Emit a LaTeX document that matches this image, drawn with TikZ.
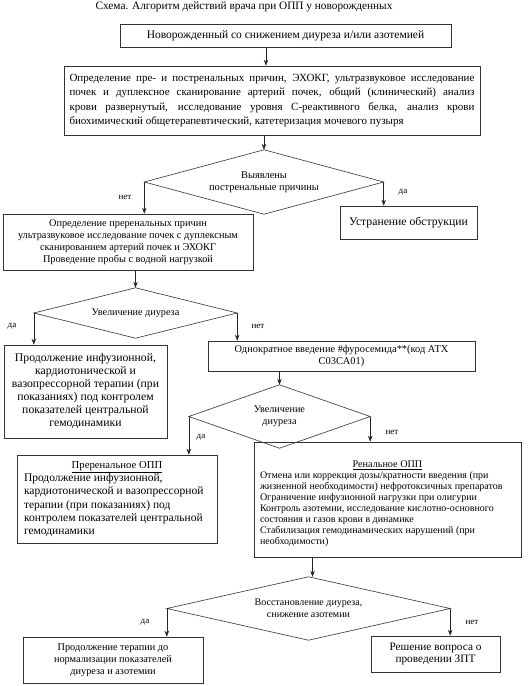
\documentclass[tikz,border=0pt]{standalone}
\usepackage{fontspec}
\setmainfont{Liberation Serif}
\usetikzlibrary{arrows.meta}
\newcommand{\fs}[2]{\fontsize{#1}{#2}\selectfont}
\begin{document}
\begin{tikzpicture}[x=1pt,y=-1pt,
  box/.style={draw=black!80, line width=0.6pt, inner sep=0pt, align=center},
  dtext/.style={inner sep=0pt, align=center},
  dline/.style={draw=black!80, line width=0.6pt},
  arr/.style={draw=black!85, line width=0.6pt, -{Stealth[length=6pt,width=4.5pt]}},
  lab/.style={inner sep=0pt, font=\fs{9}{11}}]
\useasboundingbox[fill=white] (0,0) rectangle (529,686);

\node[inner sep=0pt, font=\fs{11.3}{13}] (title) at (244,7) {Схема. Алгоритм действий врача при ОПП у новорожденных};

\node[box, minimum width=331, minimum height=23, font=\fs{11.5}{13}] (b1) at (285.5,35.5) {Новорожденный со снижением диуреза и/или азотемией};

\node[box, minimum width=416, minimum height=69, font=\fs{11}{14.3}, align=left] (b2) at (272,100.5) {%
\makebox[405pt][s]{Определение пре- и постренальных причин, ЭХОКГ, ультразвуковое исследование}\\
\makebox[405pt][s]{почек и дуплексное сканирование артерий почек, общий (клинический) анализ}\\
\makebox[405pt][s]{крови развернутый, исследование уровня С-реактивного белка, анализ крови}\\
\makebox[405pt][l]{биохимический общетерапевтический, катетеризация мочевого пузыря}};

\node[dtext, minimum width=239, minimum height=64, font=\fs{10.4}{12}] (d1) at (264,182) {Выявлены\\постренальные причины};
\draw[dline] (d1.north) -- (d1.east) -- (d1.south) -- (d1.west) -- cycle;

\node[box, minimum width=250, minimum height=56, font=\fs{10.3}{12}] (b3) at (128,242) {Определение преренальных причин\\ультразвуковое исследование почек с дуплексным\\сканированием артерий почек и ЭХОКГ\\Проведение пробы с водной нагрузкой};

\node[box, minimum width=137, minimum height=33, font=\fs{11.7}{13}] (b4) at (408.5,222.5) {Устранение обструкции};

\node[dtext, minimum width=203, minimum height=50, font=\fs{10.2}{12}] (d2) at (135.5,313) {Увеличение диуреза};
\draw[dline] (d2.north) -- (d2.east) -- (d2.south) -- (d2.west) -- cycle;

\node[box, minimum width=163, minimum height=93, font=\fs{11.7}{13}] (b5) at (85.5,391.5) {Продолжение инфузионной,\\кардиотонической и\\вазопрессорной терапии (при\\показаниях) под контролем\\показателей центральной\\гемодинамики};

\node[box, minimum width=267, minimum height=30, font=\fs{10.4}{12}] (b6) at (341.5,356) {Однократное введение \#фуросемида**(код АТХ\\C03CA01)};

\node[dtext, minimum width=181, minimum height=63, font=\fs{10.2}{12}] (d3) at (279.5,416.5) {Увеличение\\диуреза};
\draw[dline] (d3.north) -- (d3.east) -- (d3.south) -- (d3.west) -- cycle;

\node[box, minimum width=200, minimum height=88, font=\fs{11.5}{13.3}, align=left] (b7) at (117,499) {%
\makebox[186pt]{\fs{10.7}{13.3}\underline{Преренальное ОПП}}\\
Продолжение инфузионной,\\
кардиотонической и вазопрессорной\\
терапии (при показаниях) под\\
контролем показателей центральной\\
гемодинамики};

\node[box, minimum width=267, minimum height=115] (b8) at (387.5,499.5) {};
\node[inner sep=0pt, font=\fs{10}{11}, align=left] (b8t) at ([yshift=-4pt]b8.center) {%
\makebox[255pt]{\fs{10.2}{12}\underline{Ренальное ОПП}}\\
Отмена или коррекция дозы/кратности введения (при\\
жизненной необходимости) нефротоксичных препаратов\\
Ограничение инфузионной нагрузки при олигурии\\
Контроль азотемии, исследование кислотно-основного\\
состояния и газов крови в динамике\\
Стабилизация гемодинамических нарушений (при\\
необходимости)};

\node[dtext, minimum width=283, minimum height=63, font=\fs{10}{11.5}] (d4) at (308.5,608.5) {Восстановление диуреза,\\снижение азотемии};
\draw[dline] (d4.north) -- (d4.east) -- (d4.south) -- (d4.west) -- cycle;

\node[box, minimum width=180, minimum height=46, font=\fs{10.3}{12}] (b9) at (113,660) {Продолжение терапии до\\нормализации показателей\\диуреза и азотемии};

\node[box, minimum width=129, minimum height=36, font=\fs{11.3}{12.5}] (b10) at (435.5,654) {Решение вопроса о\\проведении ЗПТ};

% connectors
\draw[arr] ([xshift=-19.5pt]b1.south) -- ([xshift=-19.5pt]b1.south |- b2.north);
\draw[arr] (d1.north |- b2.south) -- (d1.north);
\draw[arr] (d1.west) -- (d1.west |- b3.north);
\draw[arr] (d1.east) -- (d1.east |- b4.north);
\draw[arr] (d2.north |- b3.south) -- (d2.north);
\draw[arr] (d2.west) -- (d2.west |- b5.north);
\draw[arr] (d2.east) -- (d2.east |- b6.north);
\draw[arr] (d3.north |- b6.south) -- (d3.north);
\draw[arr] (d3.west) -- (d3.west |- b7.north);
\draw[arr] (d3.east) -- (d3.east |- b8.north);
\draw[arr] ([xshift=4pt]d4.north |- b8.south) -- ([xshift=4pt]d4.north |- d4.north);
\draw[arr] (d4.west) -- (d4.west |- b9.north);
\draw[arr] (d4.east) -- (d4.east |- b10.north);

% labels
\node[lab] (l1) at (125,197) {нет};
\node[lab] (l2) at (403,192) {да};
\node[lab] (l3) at (12,326) {да};
\node[lab] (l4) at (258,326) {нет};
\node[lab] (l5) at (201,437) {да};
\node[lab] (l6) at (392,432) {нет};
\node[lab] (l7) at (145,622) {да};
\node[lab] (l8) at (472,622) {нет};
\end{tikzpicture}
\end{document}
